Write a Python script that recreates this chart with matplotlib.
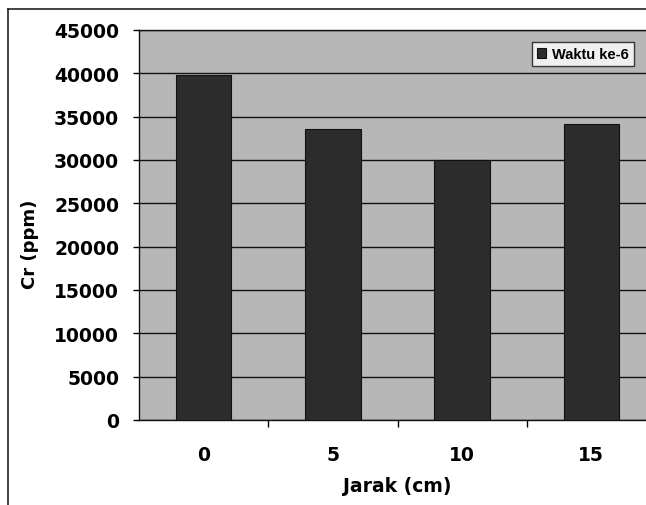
import matplotlib
matplotlib.use("Agg")
import matplotlib.pyplot as plt
from matplotlib.lines import Line2D

# data
jarak = ["0", "5", "10", "15"]
cr_ppm = [39800, 33600, 30000, 34200]
series_name = "Waktu ke-6"
y_ticks = [0, 5000, 10000, 15000, 20000, 25000, 30000, 35000, 40000, 45000]

plt.rcParams['font.family'] = ['DejaVu Sans']

fig = plt.figure(figsize=(6.46, 5.06), dpi=100)
fig.patch.set_facecolor("white")

# plot area runs off the right edge like the scan
ax = fig.add_axes([139/646, 1 - 421/506, 517/646, 390/506])
ax.set_facecolor("#b7b7b7")

x = list(range(len(jarak)))
ax.bar(x, cr_ppm, width=0.43, color="#2c2c2c", edgecolor="#111111",
       linewidth=0.8, zorder=3, label=series_name)

ax.set_xlim(-0.5, len(jarak) - 0.5)
ax.set_ylim(0, 45000)
ax.set_yticks(y_ticks)
ax.set_yticklabels([str(v) for v in y_ticks], fontsize=13.5, fontweight="bold")
ax.yaxis.grid(True, color="#111111", linewidth=1.0, zorder=1)
ax.set_axisbelow(True)

ax.set_xticks(x)
ax.set_xticklabels(jarak, fontsize=13.5, fontweight="bold")
ax.set_xticks([i + 0.5 for i in x[:-1]], minor=True)
ax.tick_params(axis="x", which="major", length=0, pad=18)
ax.tick_params(axis="x", which="minor", length=5, direction="out", width=1)
ax.tick_params(axis="y", length=4.3, width=1, pad=10)

for s in ["left", "bottom", "top"]:
    ax.spines[s].set_color("#111111")
    ax.spines[s].set_linewidth(1.0)
ax.spines["right"].set_visible(False)

ax.set_xlabel("Jarak (cm)", fontsize=13.5, fontweight="bold", labelpad=9)
fig.text(30/646, 1 - 244/506, "Cr (ppm)", rotation=90, fontsize=13,
         fontweight="bold", ha="center", va="center")

# legend box (right part is clipped in the scan, keep text inside here)
leg = ax.legend(loc="upper left", bbox_to_anchor=(532/646, 1 - 43/506),
                bbox_transform=fig.transFigure, frameon=True, fancybox=False,
                prop={"family": "Liberation Sans", "weight": "bold", "size": 10.5},
                handlelength=0.6, handleheight=0.6, handletextpad=0.4,
                borderpad=0.35, borderaxespad=0)
leg.get_frame().set_edgecolor("#111111")
leg.get_frame().set_facecolor("white")
leg.get_frame().set_linewidth(1.0)

# outer chart frame from the scan
fig.add_artist(Line2D([8/646, 8/646], [0, 1 - 10/506], color="#222222", lw=1.2))
fig.add_artist(Line2D([8/646, 1], [1 - 10/506, 1 - 10/506], color="#222222", lw=1.2))

fig.savefig("out.png", dpi=100)
